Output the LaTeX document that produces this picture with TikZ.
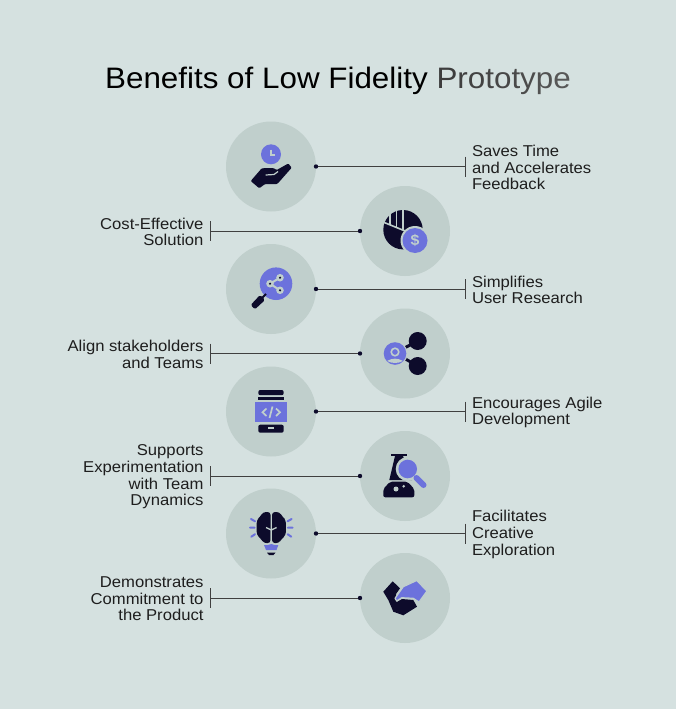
\documentclass[tikz,border=0pt]{standalone}
\usepackage{xcolor}
\usepackage{fontspec}
\setmainfont[FakeStretch=1.06]{Liberation Sans}
\usetikzlibrary{positioning}
\definecolor{paper}{HTML}{D5E1E0}
\definecolor{disc}{HTML}{C0CFCC}
\definecolor{navy}{HTML}{0D0B2B}
\definecolor{violet}{HTML}{6C72DC}
\definecolor{ink}{HTML}{1E1E1E}
\tikzset{
	every node/.style = {inner sep = 0, outer sep = 0},
	spot/.style = {circle, fill=disc, minimum size=90pt},
	dot/.style = {circle, fill=navy, minimum size=4.4pt},
	rightnote/.style = {text=ink, align=left, yshift=-1pt, font=\fontsize{15.7}{16.6}\selectfont},
	leftnote/.style = {text=ink, align=right, yshift=-1pt, font=\fontsize{15.7}{16.6}\selectfont},
	lead/.style = {draw=ink!85, line width=1pt},
	ray/.style = {draw=violet, line width=2pt, line cap=round},
	cut/.style = {draw=disc, line width=1.2pt}
}
\newcommand{\tint}[2]{\textcolor[gray]{#1}{#2}}
\begin{document}
\begin{tikzpicture}[x=1pt, y=-1pt]
	\fill[paper] (0,0) rectangle (676,709);

	\node[anchor=base, font=\fontsize{29.6}{34}\selectfont] (title) at (338,88.5) {\textcolor{black}{Benefits of Low Fidelity} \tint{.24}{P}\tint{.25}{r}\tint{.26}{o}\tint{.27}{t}\tint{.28}{o}\tint{.29}{t}\tint{.30}{y}\tint{.32}{p}\tint{.34}{e}};

	\node[spot] (time) at (271,166.5) {};
	\node[spot] (cost) at (405,231) {};
	\node[spot] (research) at (271,289) {};
	\node[spot] (teams) at (405,353.5) {};
	\node[spot] (agile) at (271,411.5) {};
	\node[spot] (trial) at (405,476) {};
	\node[spot] (creative) at (271,533.5) {};
	\node[spot] (product) at (405,598) {};

	\node[dot] (timedot) at (time.east) {};
	\node[dot] (costdot) at (cost.west) {};
	\node[dot] (researchdot) at (research.east) {};
	\node[dot] (teamsdot) at (teams.west) {};
	\node[dot] (agiledot) at (agile.east) {};
	\node[dot] (trialdot) at (trial.west) {};
	\node[dot] (creativedot) at (creative.east) {};
	\node[dot] (productdot) at (product.west) {};

	\coordinate[right=147.3pt of timedot] (timebar);
	\coordinate[left=147.3pt of costdot] (costbar);
	\coordinate[right=147.3pt of researchdot] (researchbar);
	\coordinate[left=147.3pt of teamsdot] (teamsbar);
	\coordinate[right=147.3pt of agiledot] (agilebar);
	\coordinate[left=147.3pt of trialdot] (trialbar);
	\coordinate[right=147.3pt of creativedot] (creativebar);
	\coordinate[left=147.3pt of productdot] (productbar);

	\foreach \bar in {timebar,costbar,researchbar,teamsbar,agilebar,trialbar,creativebar,productbar}{
		\draw[lead] ([yshift=10pt]\bar) -- ([yshift=-10pt]\bar);
	}
	\path[lead] (timedot) edge (timebar) (costdot) edge (costbar)
		(researchdot) edge (researchbar) (teamsdot) edge (teamsbar)
		(agiledot) edge (agilebar) (trialdot) edge (trialbar)
		(creativedot) edge (creativebar) (productdot) edge (productbar);

	\node[rightnote, right=6.5pt of timebar] (timetext) {Saves Time\\and Accelerates\\Feedback};
	\node[leftnote, left=7pt of costbar] (costtext) {Cost-Effective\\Solution};
	\node[rightnote, right=6.5pt of researchbar] (researchtext) {Simplifies\\User Research};
	\node[leftnote, left=7pt of teamsbar] (teamstext) {Align stakeholders\\and Teams};
	\node[rightnote, right=6.5pt of agilebar] (agiletext) {Encourages Agile\\Development};
	\node[leftnote, left=7pt of trialbar] (trialtext) {Supports\\Experimentation\\with Team\\Dynamics};
	\node[rightnote, right=6.5pt of creativebar] (creativetext) {Facilitates\\Creative\\Exploration};
	\node[leftnote, left=7pt of productbar] (producttext) {Demonstrates\\Commitment to\\the Product};

	% hand and clock
	\fill[violet] (271,154.3) circle (10);
	\draw[disc, line width=1.2pt] (271,149.5) -- (271,155) -- (275,155);
	\fill[navy, rounded corners=1pt] (250.7,181) -- (261.7,168.3) -- (273.3,168) -- (276.7,170) -- (288.3,163.5) -- (291.7,167.7) -- (277.3,184) -- (265,184) -- (259.3,188.3) -- cycle;
	\draw[cut] (265.7,175) -- (274,174.5) -- (278,171.5);

	% pie and dollar
	\fill[navy] (403,229.7) circle (19.7);
	\draw[disc, line width=1.6pt] (383,222) -- (410,233);
	\draw[disc, line width=1.6pt] (390,210) -- (390,224.9) (396.5,208) -- (396.5,227.5) (403,208) -- (403,230);
	\fill[disc] (415,240.5) circle (14.5);
	\fill[violet] (415,240.5) circle (12.5);
	\node[text=disc, font=\bfseries\fontsize{15}{15}\selectfont] (dollar) at (415,240.5) {\$};

	% magnifier and share
	\fill[violet] (276,283.7) circle (16.3);
	\fill[navy, rounded corners=1.5pt] (250.7,305) -- (260,295) -- (265,300) -- (255,309.3) -- cycle;
	\draw[navy, line width=2pt] (262,298) -- (266,294);
	\draw[disc, line width=2pt] (280,277.7) -- (270,283.7) -- (280,290.3);
	\foreach \px/\py in {280/277.7,270/283.7,280/290.3}{
		\fill[disc] (\px,\py) circle (3.8);
		\fill[navy] (\px,\py) circle (1.2);
	}

	% person and links
	\draw[navy, line width=3pt] (395,353) -- (417.7,341) (395,353) -- (417.7,366);
	\fill[navy] (417.7,341) circle (9);
	\fill[navy] (417.7,366) circle (9);
	\fill[disc] (395,353.5) circle (12.5);
	\fill[violet] (395,353.5) circle (11.3);
	\draw[disc, line width=1.6pt] (395,352) circle (3.8);
	\fill[disc] (387,361) to[bend left=30] (403,361) to[bend left=25] cycle;

	% phone with code
	\fill[navy, rounded corners=2pt] (258.3,390) rectangle (283.7,395.2);
	\fill[navy] (258.3,397) rectangle (283.7,399.7);
	\fill[violet] (255,402.3) rectangle (287,422.3);
	\fill[navy, rounded corners=2pt] (258.3,424.7) rectangle (283.7,432.7);
	\fill[disc] (267.7,427) rectangle (274.3,429);
	\draw[disc, line width=1.7pt] (266.5,408.5) -- (262.5,412.3) -- (266.5,416);
	\draw[disc, line width=1.7pt] (272.5,406.5) -- (269.5,418);
	\draw[disc, line width=1.7pt] (276,408.5) -- (280,412.3) -- (276,416);

	% flask and lens
	\fill[navy] (391,454.3) rectangle (406.7,456.3);
	\fill[navy] (395,456) -- (389.3,480) -- (412,480) -- (403,456) -- cycle;
	\fill[navy, rounded corners=2pt] (390,481.7) -- (407.5,481.7) -- (414.3,489) -- (414.3,497.3) -- (383.3,497.3) -- (383.3,489) -- cycle;
	\fill[disc] (396,489) circle (2.5);
	\fill[disc] (403.7,486.3) circle (1.4);
	\fill[disc] (407.7,469) circle (12);
	\fill[violet] (407.7,469) circle (9.3);
	\draw[violet, line width=6pt, line cap=round] (416.5,478) -- (423.5,485);

	% brain and bulb
	\fill[navy, rounded corners=3pt] (270.6,512) -- (263,512) -- (260,517) -- (256.7,520) -- (256.7,535) -- (261,539) -- (264,543.3) -- (270.6,543) -- cycle;
	\fill[navy, rounded corners=3pt] (272,512) -- (279.6,512) -- (282.6,517) -- (285.9,520) -- (285.9,535) -- (281.6,539) -- (278.6,543.3) -- (272,543) -- cycle;
	\draw[disc, line width=1.3pt] (271.3,530) -- (271.3,543) (271.3,530) -- (266,527.5) (271.3,530) -- (276.6,527.5);
	\draw[ray] (251,519) -- (255,521.3) (250,527.7) -- (254.7,527.7) (251.3,536.7) -- (255,534.2);
	\draw[ray] (291.6,519) -- (287.6,521.3) (292.6,527.7) -- (287.9,527.7) (291.3,536.7) -- (287.6,534.2);
	\fill[violet] (264,545) -- (268,545) -- (271.3,544) -- (274.5,545) -- (278.3,545) -- (276.5,550) -- (266,550) -- cycle;
	\fill[navy] (267,552.7) -- (275.5,552.7) -- (273.5,555) -- (269,555) -- cycle;

	% handshake
	\fill[navy] (383.3,591.7) -- (392.7,581.3) -- (400,588.3) -- (396,594) -- (396.7,602) -- (402,599) -- (413.3,600) -- (417,606.7) -- (403.3,615.3) -- (393.3,611.7) -- (388.3,600) -- cycle;
	\filldraw[violet, draw=disc, line width=1.2pt, line join=round] (395,598.3) -- (403.3,586.7) -- (416.7,580.5) -- (427,591) -- (419,602) -- (413.3,598.3) -- (401.7,597.7) -- (396.7,601) -- cycle;
\end{tikzpicture}
\end{document}
